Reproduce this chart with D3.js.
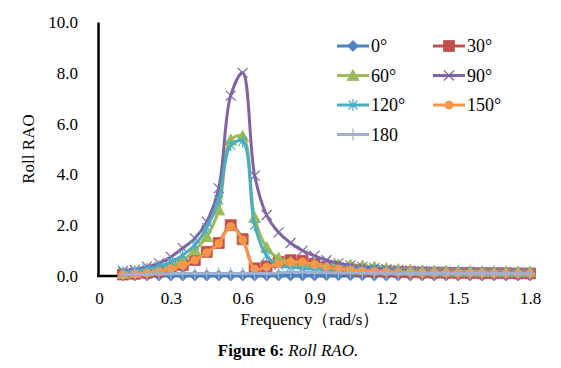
<!DOCTYPE html>
<html>
<head>
<meta charset="utf-8">
<script src="https://cdn.jsdelivr.net/npm/d3@7"></script>
<style>
  body { margin: 0; background: #fff; }
  svg { display: block; font-family: "Liberation Serif", "Times New Roman", serif; }
</style>
</head>
<body>
<div id="chart"></div>
<script>
// frequencies (rad/s) where the RAO was computed
var freq = [0.1, 0.15, 0.2, 0.25, 0.3, 0.35, 0.4, 0.45, 0.5, 0.55, 0.6, 0.65, 0.7, 0.75, 0.8, 0.85, 0.9,
    0.95, 1.0, 1.05, 1.1, 1.15, 1.2, 1.25, 1.3, 1.35, 1.4, 1.45, 1.5, 1.55, 1.6, 1.65, 1.7, 1.75, 1.8];

var deg0 = [0.02, 0.02, 0.02, 0.02, 0.02, 0.02, 0.02, 0.02, 0.02, 0.02, 0.02, 0.02, 0.02, 0.02, 0.02, 0.02, 0.02,
    0.03, 0.03, 0.03, 0.03, 0.02, 0.02, 0.02, 0.02, 0.02, 0.02, 0.02, 0.02, 0.02, 0.02, 0.02, 0.02, 0.02, 0.02];
var deg30 = [0.06, 0.09, 0.13, 0.18, 0.3, 0.43, 0.63, 0.95, 1.3, 2.0, 1.45, 0.3, 0.38, 0.55, 0.62, 0.6, 0.48,
    0.36, 0.3, 0.26, 0.22, 0.2, 0.18, 0.16, 0.15, 0.14, 0.13, 0.13, 0.12, 0.12, 0.11, 0.11, 0.11, 0.1, 0.1];
var deg60 = [0.1, 0.14, 0.2, 0.28, 0.42, 0.62, 1.02, 1.55, 2.6, 5.35, 5.5, 2.3, 1.12, 0.7, 0.55, 0.5, 0.46,
    0.45, 0.45, 0.43, 0.4, 0.35, 0.3, 0.26, 0.23, 0.21, 0.2, 0.19, 0.18, 0.18, 0.17, 0.17, 0.16, 0.16, 0.16];
var deg90 = [0.2, 0.24, 0.37, 0.5, 0.75, 1.1, 1.48, 2.14, 3.45, 7.1, 8.0, 3.95, 2.4, 1.72, 1.3, 1.0, 0.8,
    0.62, 0.5, 0.42, 0.36, 0.31, 0.27, 0.24, 0.21, 0.19, 0.17, 0.16, 0.15, 0.14, 0.13, 0.12, 0.12, 0.11, 0.11];
var deg120 = [0.15, 0.2, 0.28, 0.38, 0.55, 0.82, 1.22, 1.9, 3.0, 5.15, 5.3, 2.0, 0.8, 0.42, 0.34, 0.3, 0.28,
    0.27, 0.27, 0.26, 0.25, 0.22, 0.2, 0.18, 0.17, 0.16, 0.15, 0.15, 0.14, 0.14, 0.14, 0.13, 0.13, 0.13, 0.13];
var deg150 = [0.05, 0.08, 0.12, 0.17, 0.28, 0.42, 0.62, 0.92, 1.28, 1.95, 1.42, 0.28, 0.35, 0.48, 0.55, 0.55, 0.45,
    0.35, 0.28, 0.24, 0.2, 0.18, 0.16, 0.15, 0.14, 0.13, 0.12, 0.12, 0.11, 0.11, 0.11, 0.1, 0.1, 0.1, 0.1];
var deg180 = [0.05, 0.06, 0.07, 0.08, 0.09, 0.1, 0.1, 0.1, 0.1, 0.1, 0.1, 0.1, 0.1, 0.12, 0.15, 0.15, 0.14,
    0.13, 0.12, 0.12, 0.11, 0.11, 0.1, 0.1, 0.1, 0.1, 0.1, 0.1, 0.1, 0.1, 0.1, 0.1, 0.1, 0.1, 0.1];

var seriesNames = ["0°", "30°", "60°", "90°", "120°", "150°", "180"];
var xTicks = [0, 0.3, 0.6, 0.9, 1.2, 1.5, 1.8];
var yTicks = [0, 2, 4, 6, 8, 10];

var series = [
    { name: seriesNames[0], values: deg0, color: "#4f81bd", marker: "diamond" },
    { name: seriesNames[1], values: deg30, color: "#c0504d", marker: "square" },
    { name: seriesNames[2], values: deg60, color: "#9bbb59", marker: "triangle" },
    { name: seriesNames[3], values: deg90, color: "#8064a2", marker: "x" },
    { name: seriesNames[4], values: deg120, color: "#4bacc6", marker: "star" },
    { name: seriesNames[5], values: deg150, color: "#f79646", marker: "circle" },
    { name: seriesNames[6], values: deg180, color: "#9db1d3", marker: "plus" }
];

var W = 561, H = 368;
var plot = { left: 99, right: 530, top: 22, bottom: 276 };

var svg = d3.select("#chart").append("svg")
    .attr("width", W)
    .attr("height", H);

var x = d3.scaleLinear().domain([0, 1.8]).range([plot.left, plot.right]);
var y = d3.scaleLinear().domain([0, 10]).range([plot.bottom, plot.top]);

// y axis: labels only plus the black spine
var yAxis = svg.append("g")
    .attr("transform", "translate(" + (plot.left - 1) + ",0)")
    .call(d3.axisLeft(y).tickValues(yTicks).tickSize(0).tickPadding(20).tickFormat(d3.format(".1f")));
yAxis.select(".domain").attr("stroke", "#000").attr("stroke-width", 2.5);
yAxis.selectAll("text")
    .attr("font-family", "Liberation Serif, serif")
    .attr("font-size", 17)
    .attr("fill", "#000");

var xAxis = svg.append("g")
    .attr("transform", "translate(0," + plot.bottom + ")")
    .call(d3.axisBottom(x).tickValues(xTicks).tickSize(0).tickPadding(16)
        .tickFormat(d => d === 0 ? "0" : d3.format(".1f")(d)));
xAxis.select(".domain").attr("stroke", "#000").attr("stroke-width", 2.5)
    .attr("d", "M" + (plot.left - 2) + ",0H" + plot.right);
xAxis.selectAll("text")
    .attr("font-family", "Liberation Serif, serif")
    .attr("font-size", 17)
    .attr("fill", "#000");

function markerPath(type) {
    switch (type) {
        case "diamond": return "M0,-5.5L5.5,0L0,5.5L-5.5,0Z";
        case "square": return "M-5.5,-5.5H5.5V5.5H-5.5Z";
        case "triangle": return "M0,-6L6,5H-6Z";
        case "x": return "M-5,-5L5,5M-5,5L5,-5";
        case "star": return "M-4.5,-4.5L4.5,4.5M-4.5,4.5L4.5,-4.5M0,-6V6";
        case "plus": return "M-5,0H5M0,-6V6";
        case "circle": return "M-4,0A4,4 0 1,0 4,0A4,4 0 1,0 -4,0Z";
    }
}

function drawMarker(g, s) {
    var open = s.marker === "x" || s.marker === "star" || s.marker === "plus";
    g.append("path")
        .attr("d", markerPath(s.marker))
        .attr("fill", open ? "none" : s.color)
        .attr("stroke", s.color)
        .attr("stroke-width", open ? 1.2 : 0.8);
}

var line = d3.line()
    .x((d, i) => x(freq[i]))
    .y(d => y(d))
    .curve(d3.curveCatmullRom.alpha(0.5));

series.forEach(function (s) {
    var g = svg.append("g");
    g.append("path")
        .datum(s.values)
        .attr("d", line)
        .attr("fill", "none")
        .attr("stroke", s.color)
        .attr("stroke-width", 3);
    g.selectAll("g.m")
        .data(s.values)
        .enter().append("g")
        .attr("class", "m")
        .attr("transform", (d, i) => "translate(" + x(freq[i]) + "," + y(d) + ")")
        .each(function () { drawMarker(d3.select(this), s); });
});

// legend, two columns
var legend = svg.append("g");
series.forEach(function (s, i) {
    var col = i % 2, row = Math.floor(i / 2);
    var lx = 337 + col * 96, ly = 46 + row * 29.5;
    var item = legend.append("g").attr("transform", "translate(" + lx + "," + ly + ")");
    item.append("line")
        .attr("x1", 0).attr("x2", 32)
        .attr("stroke", s.color).attr("stroke-width", 3);
    var m = item.append("g").attr("transform", "translate(16,0)");
    drawMarker(m, s);
    item.append("text")
        .attr("x", 34)
        .attr("dy", "0.35em")
        .attr("font-size", 18)
        .text(s.name);
});

// axis titles
svg.append("text")
    .attr("transform", "translate(34,149) rotate(-90)")
    .attr("text-anchor", "middle")
    .attr("font-size", 17)
    .text("Roll RAO");

svg.append("text")
    .attr("x", 310)
    .attr("y", 325)
    .attr("text-anchor", "middle")
    .attr("font-size", 17)
    .text("Frequency（rad/s）");

// caption
var cap = svg.append("text")
    .attr("x", 288)
    .attr("y", 356)
    .attr("text-anchor", "middle")
    .attr("font-size", 17);
cap.append("tspan").attr("font-weight", "bold").text("Figure 6: ");
cap.append("tspan").attr("font-style", "italic").text("Roll RAO.");
</script>
</body>
</html>
